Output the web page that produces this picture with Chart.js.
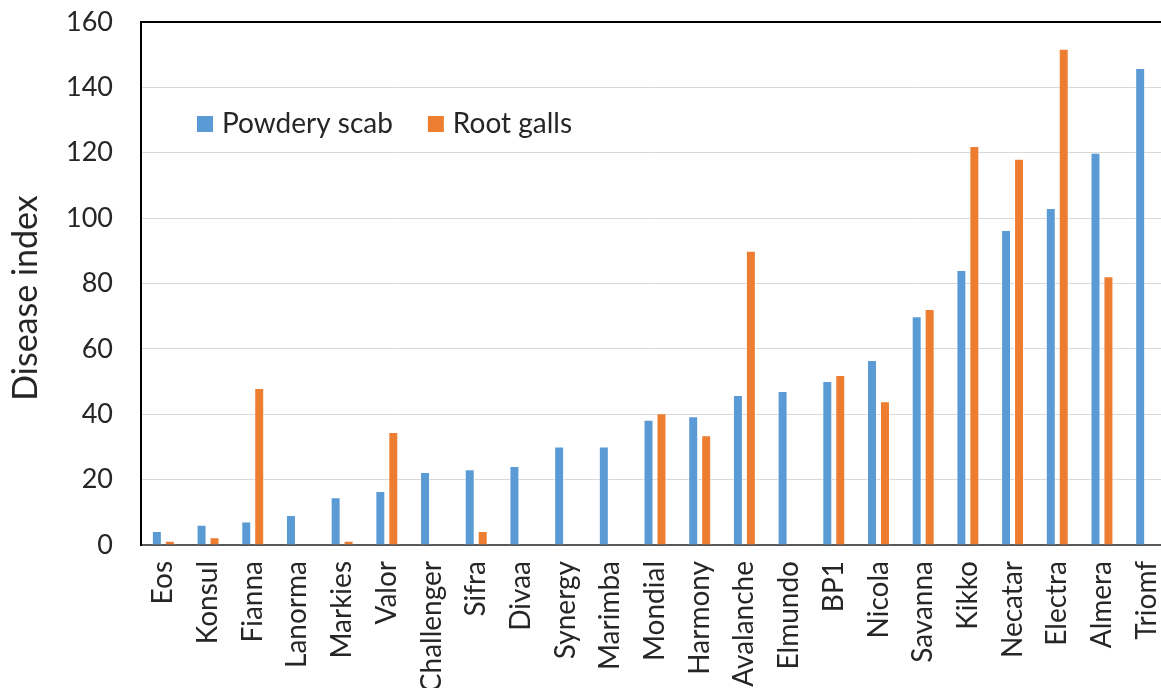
<!DOCTYPE html>
<html>
<head>
<meta charset="utf-8">
<script src="https://cdn.jsdelivr.net/npm/chart.js@4/dist/chart.umd.min.js"></script>
<style>
  html, body { margin: 0; padding: 0; background: #fff; overflow: hidden; }
  #wrap { width: 1170px; height: 688px; }
</style>
</head>
<body>
<div id="wrap"><canvas id="c" width="1170" height="688"></canvas></div>
<script>
const categories = ['Eos', 'Konsul', 'Fianna', 'Lanorma', 'Markies', 'Valor', 'Challenger', 'Sifra',
  'Divaa', 'Synergy', 'Marimba', 'Mondial', 'Harmony', 'Avalanche', 'Elmundo', 'BP1', 'Nicola',
  'Savanna', 'Kikko', 'Necatar', 'Electra', 'Almera', 'Triomf'];

const powderyScab = [4.3, 6.2, 7.2, 9.2, 14.6, 16.5, 22.3, 23.2, 24.2, 30.1, 30.1, 38.3, 39.4,
  45.9, 47.1, 50.2, 56.6, 70, 84.1, 96.4, 103.1, 120, 145.9];

const rootGalls = [1.3, 2.4, 48, null, 1.3, 34.6, null, 4.3, null, null, null, 40.3, 33.6,
  90, null, 52, 44, 72.2, 122.1, 118.2, 151.8, 82.2, null];

const yTicks = [0, 20, 40, 60, 80, 100, 120, 140, 160];

const seriesNames = ['Powdery scab', 'Root galls'];
const seriesColors = ['#5B9BD5', '#ED7D31'];
const axisTitle = 'Disease index';

const FONT = 'Lato, "Open Sans", sans-serif';
const TEXT = '#262626';

// Legend drawn inside the plot area, plus the rotated y-axis title
const overlay = {
  id: 'overlay',
  afterDraw(chart) {
    const ctx = chart.ctx;
    ctx.save();
    ctx.font = '28px ' + FONT;
    ctx.textBaseline = 'middle';
    ctx.textAlign = 'left';
    let x = 197;
    const cy = 124;
    chart.data.datasets.forEach((ds) => {
      ctx.fillStyle = ds.backgroundColor;
      ctx.fillRect(x, cy - 8, 16, 16);
      ctx.fillStyle = TEXT;
      ctx.fillText(ds.label, x + 25, cy);
      x += 25 + ctx.measureText(ds.label).width + 35;
    });

    ctx.translate(26, 298);
    ctx.rotate(-Math.PI / 2);
    ctx.textAlign = 'center';
    ctx.font = '34px ' + FONT;
    ctx.fillText(axisTitle, 0, 0);
    ctx.restore();

    // top frame line of the plot area
    const a = chart.chartArea;
    ctx.save();
    ctx.strokeStyle = '#000';
    ctx.lineWidth = 2;
    ctx.beginPath();
    ctx.moveTo(a.left, a.top);
    ctx.lineTo(a.right, a.top);
    ctx.stroke();
    ctx.restore();
  }
};

new Chart(document.getElementById('c'), {
  type: 'bar',
  data: {
    labels: categories,
    datasets: [
      { label: seriesNames[0], data: powderyScab, backgroundColor: seriesColors[0],
        borderColor: 'rgba(255,255,255,0.5)', borderWidth: 1 },
      { label: seriesNames[1], data: rootGalls, backgroundColor: seriesColors[1],
        borderColor: 'rgba(255,255,255,0.5)', borderWidth: 1 }
    ]
  },
  options: {
    responsive: false,
    animation: false,
    devicePixelRatio: 1,
    layout: { padding: { left: 0, top: 22, right: 1, bottom: 0 } },
    datasets: { bar: { categoryPercentage: 0.58, barPercentage: 0.77 } },
    plugins: {
      legend: { display: false },
      tooltip: { enabled: false }
    },
    scales: {
      x: {
        grid: { display: false, drawTicks: false },
        border: { display: true, color: '#595959', width: 2 },
        ticks: {
          autoSkip: false, maxRotation: 90, minRotation: 90, padding: 16,
          color: TEXT, font: { family: FONT, size: 28 }
        },
        afterFit(s) { s.height = 143; s.paddingLeft = 0; s.paddingRight = 0; }
      },
      y: {
        min: 0, max: 160,
        afterBuildTicks(s) { s.ticks = yTicks.map(v => ({ value: v })); },
        grid: {
          drawTicks: false,
          color: '#d9d9d9',
          lineWidth: 1
        },
        border: { display: true, color: '#000', width: 2 },
        ticks: {
          padding: 28, color: TEXT, font: { family: FONT, size: 27 }
        },
        afterFit(s) { s.width = 141; s.paddingTop = 0; s.paddingBottom = 0; }
      }
    }
  },
  plugins: [overlay]
});
</script>
</body>
</html>
